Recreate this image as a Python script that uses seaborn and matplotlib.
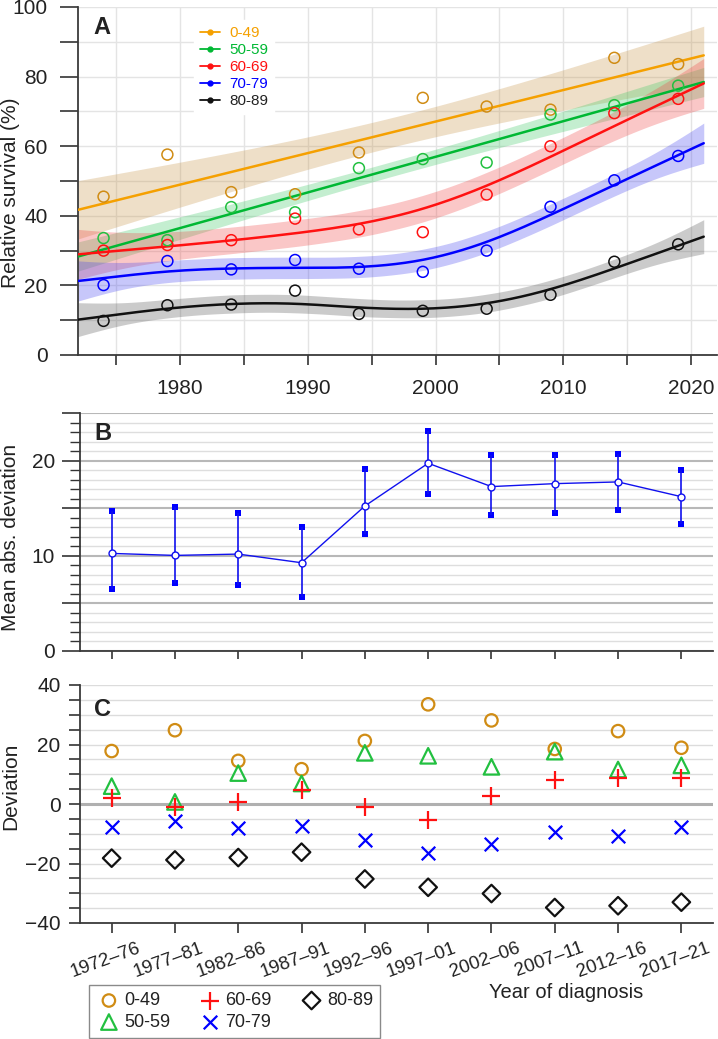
import numpy as np
import pandas as pd
import seaborn as sns
import matplotlib.pyplot as plt
from matplotlib.lines import Line2D
from matplotlib.ticker import MultipleLocator
import matplotlib.transforms as mtransforms

# ---- data ----
years = [1974, 1979, 1984, 1989, 1994, 1999, 2004, 2009, 2014, 2019]
periods = ["1972\u201376", "1977\u201381", "1982\u201386", "1987\u201391", "1992\u201396",
           "1997\u201301", "2002\u201306", "2007\u201311", "2012\u201316", "2017\u201321"]
age_groups = ["0-49", "50-59", "60-69", "70-79", "80-89"]

surv_0_49 = [45.5, 57.6, 46.8, 46.2, 58.2, 73.9, 71.4, 70.5, 85.4, 83.6]
surv_50_59 = [33.6, 33.0, 42.5, 41.0, 53.7, 56.3, 55.3, 69.1, 71.8, 77.4]
surv_60_69 = [30.0, 31.6, 33.0, 39.2, 36.1, 35.3, 46.1, 60.0, 69.5, 73.6]
surv_70_79 = [20.1, 27.0, 24.6, 27.3, 24.8, 23.9, 30.0, 42.6, 50.2, 57.2]
surv_80_89 = [9.8, 14.3, 14.5, 18.5, 11.8, 12.7, 13.3, 17.3, 26.8, 31.8]

mad_mean = [10.25, 10.04, 10.18, 9.27, 15.23, 19.72, 17.27, 17.58, 17.76, 16.21]
mad_low = [6.53, 7.13, 6.92, 5.62, 12.25, 16.53, 14.25, 14.46, 14.84, 13.30]
mad_high = [14.67, 15.13, 14.46, 13.05, 19.13, 23.06, 20.64, 20.60, 20.67, 19.02]

dev_0_49 = [17.8, 24.8, 14.5, 11.7, 21.2, 33.5, 28.1, 18.5, 24.5, 18.9]
dev_50_59 = [6.0, 0.7, 10.4, 6.9, 17.2, 16.2, 12.5, 17.6, 11.6, 13.0]
dev_60_69 = [2.0, -1.0, 0.7, 4.6, -1.0, -5.3, 2.8, 8.0, 8.7, 8.7]
dev_70_79 = [-7.8, -5.8, -8.0, -7.4, -12.2, -16.5, -13.4, -9.4, -10.6, -7.8]
dev_80_89 = [-18.2, -18.8, -18.0, -16.2, -25.2, -28.0, -30.1, -34.8, -34.2, -33.0]

line_colors = ["#f5a000", "#00b833", "#ff1111", "#0000ff", "#111111"]
point_colors = ["#d08c14", "#22c040", "#ff1111", "#0000ff", "#111111"]
band_colors = ["#c8964b", "#3cc864", "#f04646", "#4646f0", "#555555"]
c_markers = ["o", "^", "+", "x", "D"]

surv = [surv_0_49, surv_50_59, surv_60_69, surv_70_79, surv_80_89]
devs = [dev_0_49, dev_50_59, dev_60_69, dev_70_79, dev_80_89]

df_a = pd.concat([pd.DataFrame({"year": years, "survival": s, "group": g})
                  for g, s in zip(age_groups, surv)], ignore_index=True)
df_c = pd.concat([pd.DataFrame({"pos": np.arange(len(periods)), "dev": d, "group": g})
                  for g, d in zip(age_groups, devs)], ignore_index=True)


# penalised natural cubic spline (smoothing spline, lambda by GCV)
def ns_basis(t, knots, deriv=0):
    t = np.asarray(t, float)
    K = len(knots)

    def d(k):
        if deriv == 2:
            return 6 * (np.clip(t - knots[k], 0, None)
                        - np.clip(t - knots[-1], 0, None)) / (knots[-1] - knots[k])
        return ((np.clip(t - knots[k], 0, None) ** 3
                 - np.clip(t - knots[-1], 0, None) ** 3) / (knots[-1] - knots[k]))
    if deriv == 2:
        cols = [np.zeros_like(t), np.zeros_like(t)]
    else:
        cols = [np.ones_like(t), t - knots[0]]
    for k in range(K - 2):
        cols.append(d(k) - d(K - 2))
    return np.column_stack(cols)


def smooth_fit(x, y, grid, gamma=1.4):
    x = np.asarray(x, float)
    y = np.asarray(y, float)
    lo_x, span = x.min(), x.max() - x.min()
    t = (x - lo_x) / span
    tg = (np.asarray(grid) - lo_x) / span
    knots = np.unique(t)
    X = ns_basis(t, knots)
    tt = np.linspace(0, 1, 2001)
    D2 = ns_basis(tt, knots, deriv=2)
    omega = D2.T @ D2 * (tt[1] - tt[0])
    n = len(y)
    best = None
    for lam in np.logspace(-9, 3, 400):
        A = np.linalg.inv(X.T @ X + lam * omega)
        S = X @ A @ X.T
        edf = np.trace(S)
        if n - gamma * edf <= 0.5:
            continue
        r = y - S @ y
        gcv = n * (r @ r) / (n - gamma * edf) ** 2
        if best is None or gcv < best[0]:
            best = (gcv, A, edf, r)
    _, A, edf, r = best
    beta = A @ X.T @ y
    sigma2 = r @ r / (n - edf)
    Xg = ns_basis(tg, knots)
    fit = Xg @ beta
    se = np.sqrt(np.sum((Xg @ (sigma2 * A)) * Xg, axis=1))
    return fit, fit - 1.96 * se, fit + 1.96 * se


sns.set_style("ticks")
plt.rcParams["font.family"] = ["Liberation Sans", "DejaVu Sans"]
plt.rcParams["text.color"] = "#222222"
plt.rcParams["xtick.color"] = "#333333"
plt.rcParams["ytick.color"] = "#333333"
plt.rcParams["xtick.labelcolor"] = "#222222"
plt.rcParams["ytick.labelcolor"] = "#222222"

fig = plt.figure(figsize=(7.18, 10.39), dpi=100)
W, H = 718, 1039


def px_axes(l, t, r, b):
    return fig.add_axes([l / W, 1 - b / H, (r - l) / W, (b - t) / H])


ax_a = px_axes(78, 7, 716.5, 355)
ax_b = px_axes(80, 413, 713, 651)
ax_c = px_axes(80, 685, 713, 923)

spine_col = "#3a3a3a"
for ax in (ax_a, ax_b, ax_c):
    for s in ("top", "right"):
        ax.spines[s].set_visible(False)
    for s in ("left", "bottom"):
        ax.spines[s].set_color(spine_col)
        ax.spines[s].set_linewidth(1.3)
    ax.set_axisbelow(True)

# ---- panel A ----
grid_years = np.linspace(1972, 2021, 200)
for i, g in enumerate(age_groups):
    sub = df_a[df_a["group"] == g]
    fit, lo, hi = smooth_fit(sub["year"].values, sub["survival"].values, grid_years)
    ax_a.fill_between(grid_years, lo, hi, color=band_colors[i], alpha=0.3, lw=0, zorder=2)
    sns.lineplot(x=grid_years, y=fit, color=line_colors[i], lw=1.8, ax=ax_a, zorder=3)
for i, g in enumerate(age_groups):
    sub = df_a[df_a["group"] == g]
    sns.scatterplot(data=sub, x="year", y="survival", marker="o", s=62,
                    facecolor="none", edgecolor=point_colors[i], linewidth=1.1,
                    ax=ax_a, zorder=5)
ax_a.set_xlim(1972, 2022)
ax_a.set_ylim(0, 100)
ax_a.xaxis.set_major_locator(MultipleLocator(10))
ax_a.xaxis.set_minor_locator(MultipleLocator(5))
ax_a.yaxis.set_major_locator(MultipleLocator(20))
ax_a.yaxis.set_minor_locator(MultipleLocator(10))
ax_a.grid(True, which="both", color="#e4e4e4", lw=1.0)
ax_a.tick_params(axis="y", which="both", length=13, width=1.2, labelsize=15, pad=9)
ax_a.tick_params(axis="x", which="both", length=7, width=1.2, labelsize=15, pad=10)
ax_a.set_xlabel("")
ax_a.set_ylabel("")

handles_a = [Line2D([0], [0], color=c, lw=1.3, marker="o", ms=3.5) for c in line_colors]
leg_a = ax_a.legend(handles_a, age_groups, loc="upper left", bbox_to_anchor=(0.17, 0.985),
                    fontsize=11, frameon=True, framealpha=1, facecolor="white",
                    edgecolor="white", fancybox=False, handlelength=1.3,
                    handletextpad=0.6, labelspacing=0.2, borderpad=0.4)
for t, c in zip(leg_a.get_texts(), line_colors[:4] + ["#222222"]):
    t.set_color(c)

# ---- panel B ----
pos = np.arange(len(periods))
ax_b.vlines(pos, mad_low, mad_high, color="#1010ee", lw=1.2)
sns.lineplot(x=pos, y=mad_mean, color="#1010ee", lw=1.0, marker="o", ms=5,
             markerfacecolor="white", markeredgecolor="#1010ee", markeredgewidth=1.0,
             ax=ax_b)
sns.scatterplot(x=pos, y=mad_low, marker="s", s=24, color="#0000ff", linewidth=0, ax=ax_b)
sns.scatterplot(x=pos, y=mad_high, marker="s", s=24, color="#0000ff", linewidth=0, ax=ax_b)
ax_b.set_xlim(-0.5, 9.5)
ax_b.set_ylim(0, 25)
ax_b.set_xticks(pos)
ax_b.set_xticklabels([])
ax_b.yaxis.set_minor_locator(MultipleLocator(1))
ax_b.set_yticks([0, 5, 10, 15, 20, 25])
ax_b.set_yticklabels(["0", "", "10", "", "20", ""])
ax_b.grid(True, axis="y", which="minor", color="#dedede", lw=1.0)
ax_b.grid(True, axis="y", which="major", color="#b8b8b8", lw=1.5)
ax_b.tick_params(axis="y", which="major", length=13, width=1.2, labelsize=15, pad=5)
ax_b.tick_params(axis="y", which="minor", length=7, width=1.0)
ax_b.tick_params(axis="x", length=6, width=1.2)

# ---- panel C ----
for i, g in enumerate(age_groups):
    sub = df_c[df_c["group"] == g]
    if c_markers[i] in ("+", "x"):
        sns.scatterplot(data=sub, x="pos", y="dev", marker=c_markers[i],
                        s=160 if c_markers[i] == "+" else 95,
                        color=point_colors[i], linewidth=1.6, label=g, ax=ax_c, zorder=4)
    else:
        sns.scatterplot(data=sub, x="pos", y="dev", marker=c_markers[i],
                        s={"o": 80, "^": 125, "D": 80}[c_markers[i]],
                        facecolor="none", edgecolor=point_colors[i], linewidth=1.6,
                        label=g, ax=ax_c, zorder=4)
ax_c.set_xlim(-0.5, 9.5)
ax_c.set_ylim(-40, 40)
ax_c.yaxis.set_major_locator(MultipleLocator(20))
ax_c.yaxis.set_minor_locator(MultipleLocator(5))
ax_c.grid(True, axis="y", which="both", color="#dcdcdc", lw=1.0)
ax_c.axhline(0, color="#b0b0b0", lw=2.2, zorder=1)
ax_c.tick_params(axis="y", which="both", length=8, width=1.2, labelsize=15, pad=6)
ax_c.tick_params(axis="x", length=7, width=1.2, labelsize=13.5, pad=5)
ax_c.set_xticks(pos)
ax_c.set_xticklabels(periods)
offset = mtransforms.ScaledTranslation(0.25, 0, fig.dpi_scale_trans)
for lab in ax_c.get_xticklabels():
    lab.set_rotation(20)
    lab.set_ha("right")
    lab.set_va("top")
    lab.set_rotation_mode("anchor")
    lab.set_transform(lab.get_transform() + offset)
ax_c.set_xlabel("")
ax_c.set_ylabel("")
handles_c, labels_c = ax_c.get_legend_handles_labels()
ax_c.get_legend().remove()
fig.legend(handles_c, labels_c, ncol=3, loc="upper left",
           bbox_to_anchor=(80 / W, 1 - 976 / H), fontsize=13, frameon=True,
           fancybox=False, edgecolor="#8a8a8a", framealpha=1, handletextpad=0.15,
           columnspacing=1.5, labelspacing=0.25, borderpad=0.4, handlelength=1.4)

# ---- labels ----
fig.text(93 / W, 1 - 28 / H, "A", fontsize=17, fontweight="bold", va="center")
fig.text(94 / W, 1 - 434 / H, "B", fontsize=17, fontweight="bold", va="center")
fig.text(94 / W, 1 - 709 / H, "C", fontsize=17, fontweight="bold", va="center")
fig.text(11 / W, 1 - 193 / H, "Relative survival (%)", rotation=90, fontsize=15,
         ha="center", va="center")
fig.text(11 / W, 1 - 537 / H, "Mean abs. deviation", rotation=90, fontsize=15,
         ha="center", va="center")
fig.text(11 / W, 1 - 786 / H, "Deviation", rotation=90, fontsize=15,
         ha="center", va="center")
fig.text(566 / W, 1 - 993 / H, "Year of diagnosis", fontsize=14.5, ha="center", va="center")

fig.savefig("out.png", dpi=100)
